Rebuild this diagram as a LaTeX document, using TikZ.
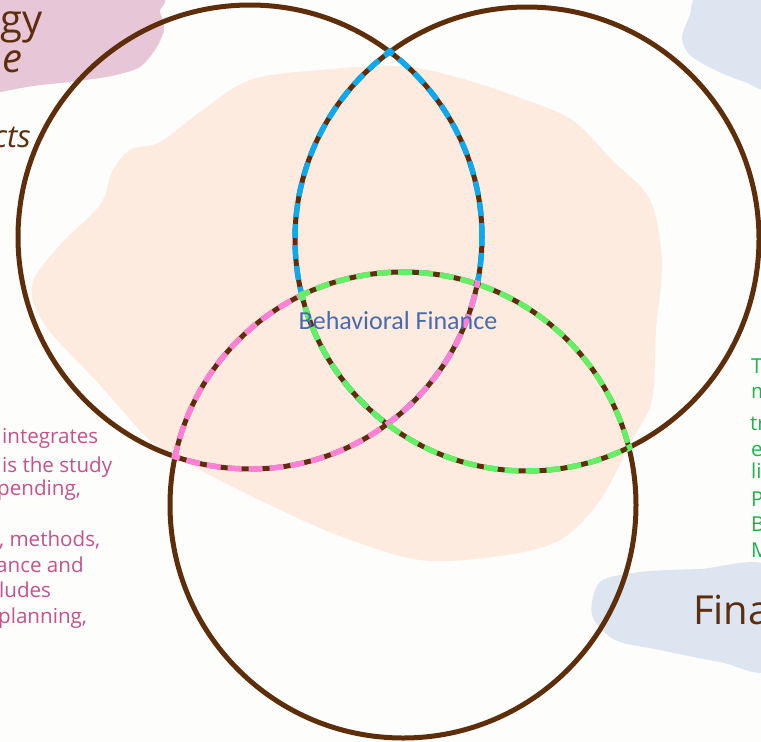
\documentclass[tikz,border=0pt]{standalone}
\usepackage{fontspec}
\setmainfont{Open Sans}
\newfontfamily\carlito{Carlito}
\definecolor{bg}{RGB}{253,253,252}
\definecolor{peach}{RGB}{253,235,224}
\definecolor{pinksplash}{RGB}{231,199,215}
\definecolor{bluesplash}{RGB}{221,229,241}
\definecolor{ringbrown}{RGB}{94,46,10}
\definecolor{titlebrown}{RGB}{92,46,14}
\definecolor{dashblue}{RGB}{14,168,236}
\definecolor{dashpink}{RGB}{255,128,212}
\definecolor{dashgreen}{RGB}{100,240,100}
\definecolor{pinktext}{RGB}{196,82,140}
\definecolor{greentext}{RGB}{30,180,76}
\definecolor{labelblue}{RGB}{74,106,174}
\tikzset{
  ring/.style={draw=ringbrown, line width=5pt},
  lensdash/.style={line width=5.5pt, dash pattern=on 14pt off 7pt},
  titletext/.style={font=\fontsize{40}{44}\selectfont, text=titlebrown, inner sep=0pt},
  ittext/.style={font=\fontsize{40}{44}\selectfont\itshape, text=titlebrown, inner sep=0pt},
  pinkline/.style={font=\fontsize{20.6}{22}\selectfont, text=pinktext, inner sep=0pt, anchor=base west},
  greenline/.style={font=\fontsize{20.6}{22}\selectfont, text=greentext, inner sep=0pt, anchor=base west},
}
\begin{document}
\begin{tikzpicture}[x=1pt,y=-1pt]
\useasboundingbox (0,0) rectangle (761,742);
\clip (0,0) rectangle (761,742);
\fill[bg] (0,0) rectangle (761,742);

% splashes
\fill[pinksplash] plot[smooth cycle, tension=0.5] coordinates {
  (-10,-10) (153,-5) (160,12) (164,30) (155,50) (140,67) (120,74) (100,78)
  (70,82) (33,86) (0,92) (-10,92)};
\fill[bluesplash] plot[smooth cycle, tension=0.5] coordinates {
  (700,-5) (770,-5) (770,85) (745,82) (715,70) (690,55) (682,38) (690,15)};
\fill[bluesplash] plot[smooth cycle, tension=0.5] coordinates {
  (600,582) (640,572) (700,569) (770,568) (770,668) (720,662) (660,650)
  (615,640) (592,615)};

% peach blob
\fill[peach] plot[smooth cycle, tension=0.55] coordinates {
  (130,150) (160,142) (200,112) (250,80) (320,70) (400,66) (460,78)
  (520,98) (572,120) (612,160) (650,200) (662,262) (656,330) (652,400)
  (632,440) (600,500) (560,540) (500,556) (420,560) (340,536) (270,505)
  (200,470) (152,442) (100,385) (45,325) (32,285) (60,245) (100,205) (112,172)};

% texts
\node[titletext, anchor=base east] (t1) at (43,33) {gy};
\node[ittext, anchor=base east] (t2) at (23,72) {e};
\node[ittext, anchor=base east, font=\fontsize{31}{34}\selectfont\itshape] (t3) at (31,147) {cts};
\node[titletext, anchor=base west] (t4) at (693,624) {Fina};

\node[pinkline] (p1) at (2,443) {integrates};
\node[pinkline] (p2) at (2,472) {is the study};
\node[pinkline] (p3) at (-3,495) {pending,};
\node[pinkline] (p4) at (-1,546) {, methods,};
\node[pinkline] (p5) at (-4,572) {ance and};
\node[pinkline] (p6) at (-1,597) {ludes};
\node[pinkline] (p7) at (-2,623) {planning,};

\node[greenline] (g1) at (751,373) {T};
\node[greenline] (g2) at (751,398) {m};
\node[greenline] (g3) at (750,430) {tr};
\node[greenline] (g4) at (751,456) {e};
\node[greenline] (g5) at (751,478) {li};
\node[greenline] (g6) at (751,506) {P};
\node[greenline] (g7) at (751,531) {B};
\node[greenline] (g8) at (751,557) {M};

% circles
\coordinate (A) at (250,237);
\coordinate (B) at (527,239);
\coordinate (C) at (403,505);
\def\rA{232pt}\def\rB{232pt}\def\rC{233pt}
\def\cA{235.5pt}\def\cB{235.5pt}\def\cC{236.5pt}

\draw[ring] (A) circle[radius=\rA];
\draw[ring] (B) circle[radius=\rB];
\draw[ring] (C) circle[radius=\rC];

% lens dashes
\begin{scope}\clip (A) circle[radius=\cA];
  \draw[lensdash, draw=dashblue] (B) circle[radius=\rB];\end{scope}
\begin{scope}\clip (B) circle[radius=\cB];
  \draw[lensdash, draw=dashblue] (A) circle[radius=\rA];\end{scope}
\begin{scope}\clip (A) circle[radius=\cA];
  \draw[lensdash, draw=dashpink] (C) circle[radius=\rC];\end{scope}
\begin{scope}\clip (C) circle[radius=\cC];
  \draw[lensdash, draw=dashpink] (A) circle[radius=\rA];\end{scope}
\begin{scope}\clip (B) circle[radius=\cB];
  \draw[lensdash, draw=dashgreen] (C) circle[radius=\rC];\end{scope}
\begin{scope}\clip (C) circle[radius=\cC];
  \draw[lensdash, draw=dashgreen] (B) circle[radius=\rB];\end{scope}

\node[font=\carlito\fontsize{26}{28}\selectfont, text=labelblue, inner sep=0pt] (lbl) at (398,321) {Behavioral Finance};
\end{tikzpicture}
\end{document}
